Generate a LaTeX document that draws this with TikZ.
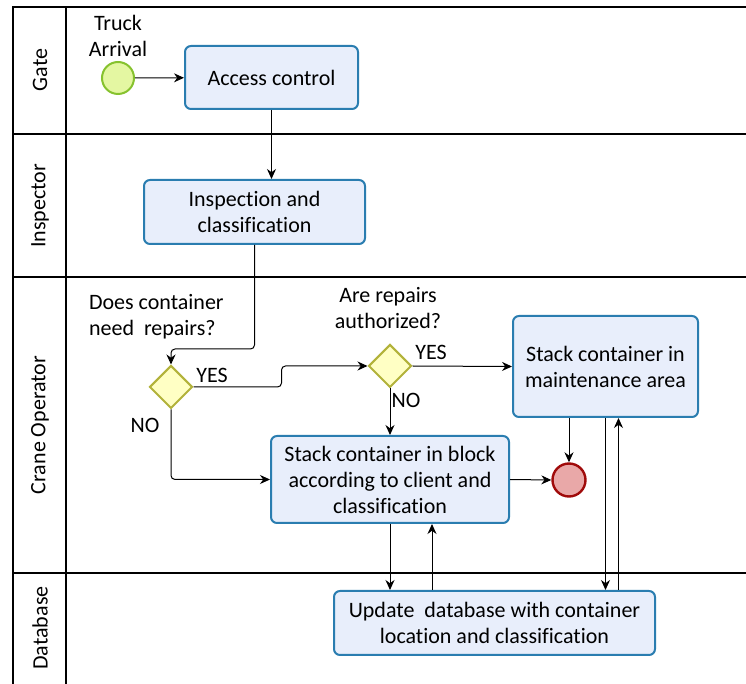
\documentclass[tikz,border=0pt]{standalone}
\usepackage{fontspec}
\setmainfont{Carlito}[Ligatures={NoCommon,NoContextual}]
\usetikzlibrary{arrows.meta, shapes.geometric, positioning}

\definecolor{taskline}{HTML}{2A7DB0}
\definecolor{taskfill}{HTML}{E8EEFB}
\definecolor{gwline}{HTML}{B2B23A}
\definecolor{gwfill}{HTML}{FFFFC4}
\definecolor{startline}{HTML}{86C22E}
\definecolor{startfill}{HTML}{E4F7A2}
\definecolor{endline}{HTML}{A00A0A}
\definecolor{endfill}{HTML}{E9A8A8}

\begin{document}
\begin{tikzpicture}[x=0.5pt, y=-0.5pt, font=\fontsize{11}{13}\selectfont,
    task/.style={draw=taskline, fill=taskfill, line width=1pt, rounded corners=3pt, align=center, inner sep=0pt},
    gateway/.style={diamond, draw=gwline, fill=gwfill, line width=1pt, minimum size=21.5pt, inner sep=0pt},
    flow/.style={-{Stealth[length=5pt,width=4.5pt]}, line width=0.5pt, rounded corners=2pt},
    lane/.style={line width=1pt}]
    \useasboundingbox (0,0) rectangle (746,684);

    % pool and lanes
    \draw[lane] (746,7) -- (13,7) -- (13,684);
    \draw[lane] (66,7) -- (66,684);
    \foreach \y in {134,277,573}
        \draw[lane] (13,\y) -- (746,\y);
    \node[rotate=90] (gate) at (40,70) {Gate};
    \node[rotate=90] (insplane) at (40,206) {Inspector};
    \node[rotate=90] (crane) at (40,425) {Crane Operator};
    \node[rotate=90] (dblane) at (40,628) {Database};

    % events, tasks, gateways
    \node[circle, draw=startline, fill=startfill, line width=1pt, minimum size=16pt, inner sep=0pt] (start) at (118,78) {};
    \node[align=center, above=-1.5pt of start] (truck) {Truck\\Arrival};
    \node[task, minimum width=86.5pt, minimum height=31.5pt] (access) at (271.5,77.5) {Access control};
    \node[task, minimum width=110.5pt, minimum height=32pt] (insp) at (254.5,212) {Inspection and\\classification};
    \node[gateway] (d1) at (171,387) {};
    \node[gateway] (d2) at (390,366) {};
    \node[task, minimum width=92.5pt, minimum height=50.5pt] (maint) at (605.5,366.5) {Stack container in\\maintenance area};
    \node[task, minimum width=119pt, minimum height=43.5pt] (block) at (390,479.5) {Stack container in block\\according to client and\\classification};
    \node[circle, draw=endline, fill=endfill, line width=1.2pt, minimum size=16.5pt, inner sep=0pt] (end) at (569,480) {};
    \node[task, minimum width=160.5pt, minimum height=32pt] (db) at (494.5,623) {Update\ \ database with container\\location and classification};

    % questions and branch labels
    \node[anchor=west, align=left] (q1) at (82,317) {Does container\\need\ \ repairs?};
    \node[align=center] (q2) at (388,308) {Are repairs\\authorized?};
    \node (yes1) at (212,375) {YES};
    \node (yes2) at (431,352) {YES};
    \node (no1) at (145,425) {NO};
    \node (no2) at (406,400) {NO};

    % sequence flows
    \draw[flow] (start) -- (access);
    \draw[flow] (access.south) -- (access.south |- insp.north);
    \draw[flow] (insp.south) -- ++(0,104) -| (d1.north);
    \draw[flow] (d1.east) -- ++(88,0) |- (d2.west);
    \draw[flow] (d1.south) |- (block.west);
    \draw[flow] (d2.east) -- (maint.west);
    \draw[flow] (d2.south) -- (block.north);
    \draw[flow] (block.east) -- (end.west);
    \draw[flow] (end.north |- maint.south) -- (end.north);

    % database updates
    \coordinate (bup) at ([xshift=21pt]block.south);
    \coordinate (mup) at ([xshift=6.5pt]maint.south);
    \draw[flow] (block.south) -- (block.south |- db.north);
    \draw[flow] (bup |- db.north) -- (bup);
    \draw[flow] (maint.south) -- (maint.south |- db.north);
    \draw[flow] (mup |- db.north) -- (mup);
\end{tikzpicture}
\end{document}
